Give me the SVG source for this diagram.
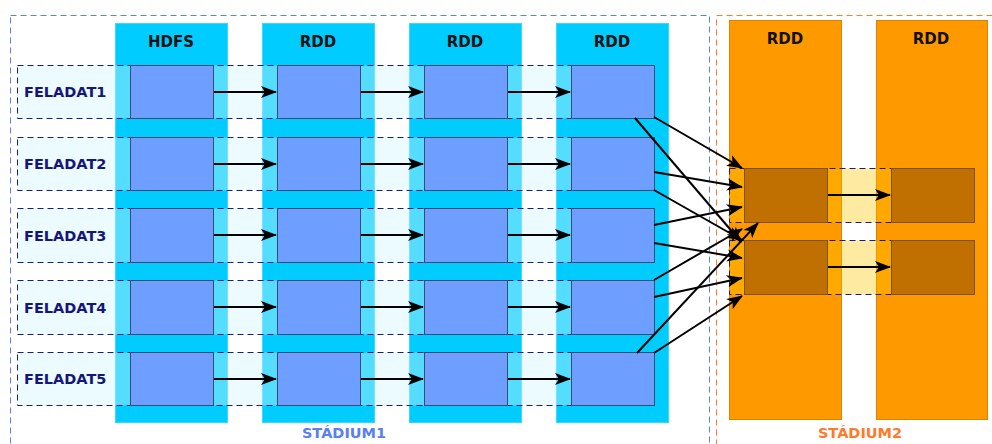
<svg xmlns="http://www.w3.org/2000/svg" width="992" height="444" viewBox="0 0 992 444">
<defs>
<marker id="ah" markerUnits="userSpaceOnUse" markerWidth="18" markerHeight="14" refX="15" refY="7" orient="auto">
<path d="M0,1 L16,7 L0,13 L4,7 Z" fill="#000"/>
</marker>
<style>
.stage1{fill:none;stroke:#5a7ff0;stroke-width:1;stroke-dasharray:6,4}
.stage2{fill:none;stroke:#ff7a2a;stroke-width:1;stroke-dasharray:6,4}
.col1{fill:#00ccff;stroke:#33dcff;stroke-width:1}
.col2{fill:#ff9900;stroke:#d88400;stroke-width:1}
.band1{fill:rgb(206,245,255);fill-opacity:0.41;stroke:#1a1a8c;stroke-width:1;stroke-dasharray:6,4}
.band2{fill:rgb(255,198,0);fill-opacity:0.37;stroke:#1a1a8c;stroke-width:1;stroke-dasharray:6,4}
.cell1{fill:#6e9eff;stroke:#3d4a70;stroke-width:1}
.cell2{fill:#c07000;stroke:#7a5420;stroke-width:1}
.hdr{font-family:"DejaVu Sans",sans-serif;font-weight:bold;font-size:15px;fill:#111;text-anchor:middle}
.lbl{font-family:"DejaVu Sans",sans-serif;font-weight:bold;font-size:14.5px;fill:#15157a}
.st{font-family:"DejaVu Sans",sans-serif;font-weight:bold;font-size:14.5px;text-anchor:middle}
.arr{stroke:#000;stroke-width:2;fill:none;marker-end:url(#ah)}
</style>
</defs>
<rect width="992" height="444" fill="#fff"/>
<g id="stage1">
<rect class="stage1" x="10.5" y="15.5" width="699" height="440"/>
<text class="st" x="344" y="438" fill="#5a7ff0">STÁDIUM1</text>
</g>
<g id="stage2">
<rect class="stage2" x="716.5" y="15.5" width="290" height="440"/>
<text class="st" x="860" y="438" fill="#ff7a2a">STÁDIUM2</text>
</g>
<g id="col-hdfs"><rect class="col1" x="115.5" y="23.5" width="112" height="399"/><text class="hdr" x="171" y="47">HDFS</text></g>
<g id="col-rdd1"><rect class="col1" x="262.5" y="23.5" width="112" height="399"/><text class="hdr" x="318" y="47">RDD</text></g>
<g id="col-rdd2"><rect class="col1" x="409.5" y="23.5" width="112" height="399"/><text class="hdr" x="465" y="47">RDD</text></g>
<g id="col-rdd3"><rect class="col1" x="556.5" y="23.5" width="112" height="399"/><text class="hdr" x="612" y="47">RDD</text></g>
<g id="col-rdd4"><rect class="col2" x="729.5" y="20.5" width="112" height="399"/><text class="hdr" x="785" y="44">RDD</text></g>
<g id="col-rdd5"><rect class="col2" x="876.5" y="20.5" width="111" height="399"/><text class="hdr" x="931" y="44">RDD</text></g>

<g id="task1"><rect class="band1" x="17.5" y="65.5" width="636" height="53"/>
<rect class="cell1" x="130.5" y="65.5" width="83" height="53"/><rect class="cell1" x="277.5" y="65.5" width="83" height="53"/><rect class="cell1" x="424.5" y="65.5" width="83" height="53"/><rect class="cell1" x="571.5" y="65.5" width="83" height="53"/>
<text class="lbl" x="24" y="97">FELADAT1</text></g>
<g id="task2"><rect class="band1" x="17.5" y="137.5" width="636" height="53"/>
<rect class="cell1" x="130.5" y="137.5" width="83" height="53"/><rect class="cell1" x="277.5" y="137.5" width="83" height="53"/><rect class="cell1" x="424.5" y="137.5" width="83" height="53"/><rect class="cell1" x="571.5" y="137.5" width="83" height="53"/>
<text class="lbl" x="24" y="169">FELADAT2</text></g>
<g id="task3"><rect class="band1" x="17.5" y="208.5" width="636" height="54"/>
<rect class="cell1" x="130.5" y="208.5" width="83" height="54"/><rect class="cell1" x="277.5" y="208.5" width="83" height="54"/><rect class="cell1" x="424.5" y="208.5" width="83" height="54"/><rect class="cell1" x="571.5" y="208.5" width="83" height="54"/>
<text class="lbl" x="24" y="241">FELADAT3</text></g>
<g id="task4"><rect class="band1" x="17.5" y="280.5" width="636" height="54"/>
<rect class="cell1" x="130.5" y="280.5" width="83" height="54"/><rect class="cell1" x="277.5" y="280.5" width="83" height="54"/><rect class="cell1" x="424.5" y="280.5" width="83" height="54"/><rect class="cell1" x="571.5" y="280.5" width="83" height="54"/>
<text class="lbl" x="24" y="313">FELADAT4</text></g>
<g id="task5"><rect class="band1" x="17.5" y="352.5" width="636" height="53"/>
<rect class="cell1" x="130.5" y="352.5" width="83" height="53"/><rect class="cell1" x="277.5" y="352.5" width="83" height="53"/><rect class="cell1" x="424.5" y="352.5" width="83" height="53"/><rect class="cell1" x="571.5" y="352.5" width="83" height="53"/>
<text class="lbl" x="24" y="384">FELADAT5</text></g>

<g id="part1"><rect class="band2" x="729.5" y="168.5" width="244" height="54"/>
<rect class="cell2" x="744.5" y="168.5" width="83" height="54"/><rect class="cell2" x="891.5" y="168.5" width="83" height="54"/></g>
<g id="part2"><rect class="band2" x="729.5" y="240.5" width="244" height="54"/>
<rect class="cell2" x="744.5" y="240.5" width="83" height="54"/><rect class="cell2" x="891.5" y="240.5" width="83" height="54"/></g>

<g id="connectors">
<line class="arr" x1="214" y1="92" x2="276" y2="92"/><line class="arr" x1="361" y1="92" x2="423" y2="92"/><line class="arr" x1="508" y1="92" x2="570" y2="92"/>
<line class="arr" x1="214" y1="164" x2="276" y2="164"/><line class="arr" x1="361" y1="164" x2="423" y2="164"/><line class="arr" x1="508" y1="164" x2="570" y2="164"/>
<line class="arr" x1="214" y1="235" x2="276" y2="235"/><line class="arr" x1="361" y1="235" x2="423" y2="235"/><line class="arr" x1="508" y1="235" x2="570" y2="235"/>
<line class="arr" x1="214" y1="307" x2="276" y2="307"/><line class="arr" x1="361" y1="307" x2="423" y2="307"/><line class="arr" x1="508" y1="307" x2="570" y2="307"/>
<line class="arr" x1="214" y1="379" x2="276" y2="379"/><line class="arr" x1="361" y1="379" x2="423" y2="379"/><line class="arr" x1="508" y1="379" x2="570" y2="379"/>
<line class="arr" x1="828" y1="195" x2="890" y2="195"/>
<line class="arr" x1="828" y1="267" x2="890" y2="267"/>
<line class="arr" x1="654" y1="117" x2="742" y2="168"/>
<line class="arr" x1="635" y1="118" x2="741" y2="242"/>
<line class="arr" x1="654" y1="172" x2="742" y2="187"/>
<line class="arr" x1="654" y1="190" x2="742" y2="240"/>
<line class="arr" x1="654" y1="225" x2="742" y2="207"/>
<line class="arr" x1="654" y1="243" x2="742" y2="258"/>
<line class="arr" x1="654" y1="280" x2="742" y2="229"/>
<line class="arr" x1="654" y1="297" x2="742" y2="278"/>
<line class="arr" x1="637" y1="353" x2="758" y2="223"/>
<line class="arr" x1="654" y1="353" x2="742" y2="296"/>
</g>
</svg>
